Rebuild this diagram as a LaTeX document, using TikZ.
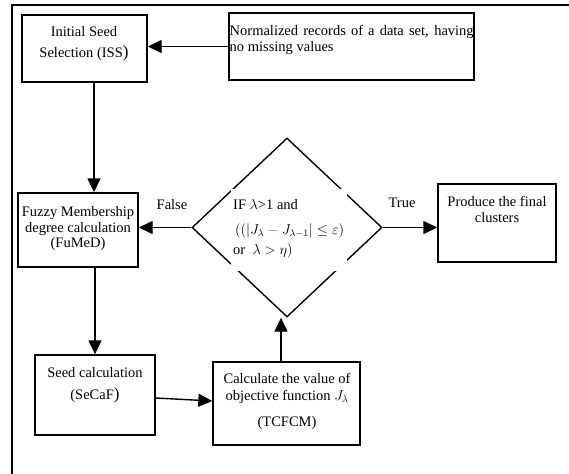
\documentclass[tikz,border=0pt]{standalone}
\usepackage{fontspec}
\setmainfont{Liberation Serif}
\usetikzlibrary{shapes.geometric,arrows.meta}
\definecolor{minusblue}{RGB}{60,100,170}
\newcommand{\bigparen}{{\fontsize{17}{17}\selectfont )}}
\begin{document}
\begin{tikzpicture}[x=1pt,y=-1pt,
  box/.style={draw, line width=1.4pt, rectangle, inner sep=0pt},
  txt/.style={font=\fontsize{14.5}{#1}\selectfont, inner sep=0pt, anchor=base},
  txt/.default=17,
  arr/.style={line width=1.4pt, -{Triangle[length=14pt,width=13pt]}}]
\useasboundingbox (0,0) rectangle (569,473);
\clip (0,0) rectangle (569,473);
\draw[line width=1.4pt] (12,5) rectangle (620,520);

% boxes
\node[box, minimum width=125pt, minimum height=67pt] (iss) at (84.5,48.5) {};
\node[box, minimum width=245pt, minimum height=67pt] (norm) at (351.5,46.5) {};
\node[box, minimum width=120pt, minimum height=74pt] (fuzzy) at (78,230) {};
\node[box, minimum width=118pt, minimum height=78pt] (prod) at (497,223) {};
\node[box, minimum width=120pt, minimum height=80pt] (seed) at (95,395) {};
\node[box, minimum width=147pt, minimum height=83pt] (tcfcm) at (286.5,403.5) {};
\node[draw, line width=1.4pt, shape=diamond, inner sep=0pt,
      minimum width=190pt, minimum height=179pt] (dec) at (287,227.5) {};
\node[fill=white, inner sep=0pt, minimum width=116pt, minimum height=82pt] (cover) at (289,230) {};

% texts
\node[txt=21] (isst) at (84,36.5) {\begin{tabular}[t]{@{}c@{}}Initial Seed\\ Selection (ISS\bigparen\end{tabular}};
\node[txt=16, anchor=base west] (normt) at (229.5,35.5) {\begin{tabular}[t]{@{}p{244pt}@{}}Normalized records of a data set, having no missing values\end{tabular}};
\node[txt=15.5] (fuzzyt) at (78,216.5) {\begin{tabular}[t]{@{}c@{}}Fuzzy Membership\\ degree calculation\\ (FuMeD)\end{tabular}};
\node[txt] (falset) at (172,209.5) {False};
\node[txt] (truet) at (402,207.5) {True};
\node[txt=16] (prodt) at (497,206.5) {\begin{tabular}[t]{@{}c@{}}Produce the final\\ clusters\end{tabular}};
\node[txt=22] (seedt) at (95,377.5) {\begin{tabular}[t]{@{}c@{}}Seed calculation\\ (SeCaF\bigparen\end{tabular}};
\node[txt=17] (tcfcmt) at (287,383.5) {\begin{tabular}[t]{@{}c@{}}Calculate the value of\\ objective function $J_\lambda$\\[9pt] (TCFCM)\end{tabular}};
\node[txt=20, anchor=base west] (condt) at (233,209.5) {\begin{tabular}[t]{@{}l@{}}IF $\lambda$>1 and\\[5pt]
\hspace{2pt}$((|J_\lambda \mathbin{\textcolor{minusblue}{-}} J_{\lambda-1}| \le \varepsilon)$\\
or\ \ $\lambda > \eta)$\end{tabular}};

% connectors
\draw[arr] (norm.west) -- (norm.west -| iss.east);
\draw[arr] ([xshift=9.5pt]iss.south) -- ([xshift=9.5pt]iss.south |- fuzzy.north);
\draw[arr] (fuzzy.south -| seed.north) -- (seed.north);
\draw[arr] ([yshift=-3pt]seed.east) -- ([yshift=2.5pt]tcfcm.west);
\draw[arr] ([xshift=-5.5pt]tcfcm.north) -- ([xshift=-5.5pt]tcfcm.north |- dec.south);
\draw[arr] (dec.west) -- (dec.west -| fuzzy.east);
\draw[arr] (dec.east) -- (dec.east -| prod.west);
\end{tikzpicture}
\end{document}
